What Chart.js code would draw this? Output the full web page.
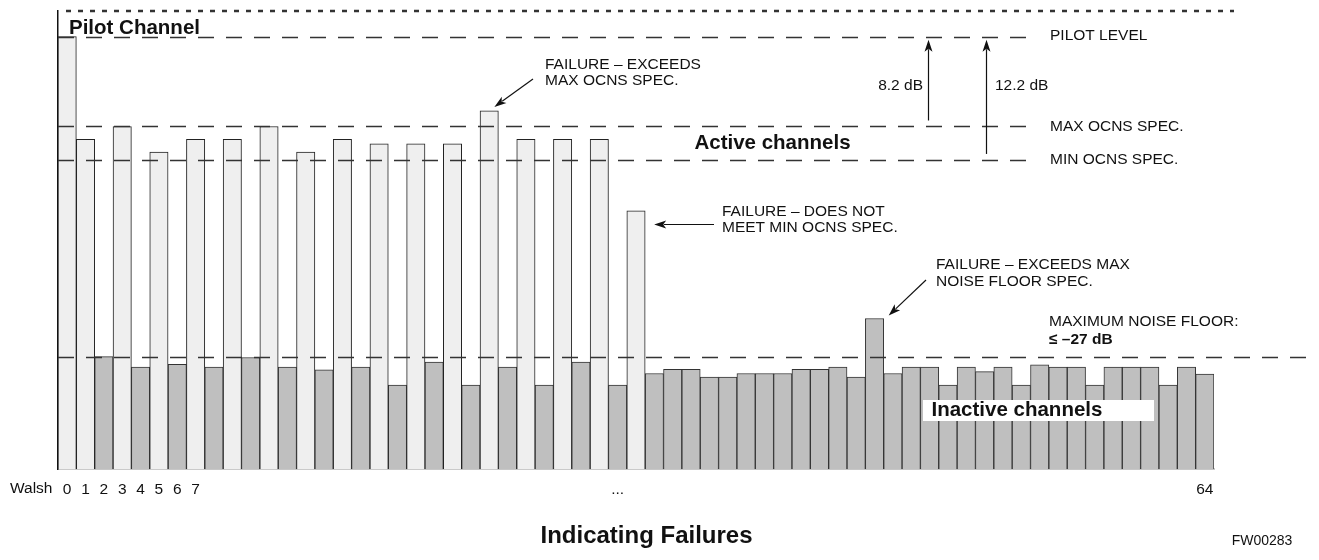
<!DOCTYPE html>
<html>
<head>
<meta charset="utf-8">
<title>Indicating Failures</title>
<script src="https://cdn.jsdelivr.net/npm/chart.js@4/dist/chart.umd.min.js"></script>
<style>
  html, body { margin: 0; padding: 0; background: #fff; }
  #wrap { width: 1319px; height: 560px; }
</style>
</head>
<body>
<div id="wrap"><canvas id="walshChart" width="1319" height="560"></canvas></div>
<script>
// Walsh code slots 0..62 (drawn schematically, last one labelled 64)
const walshCodes = Array.from({ length: 63 }, (_, i) => String(i));

// only a few slots carry a label under the axis
const shownTicks = { 0: "0", 1: "1", 2: "2", 3: "3", 4: "4", 5: "5", 6: "6", 7: "7", 30: "...", 62: "64" };

// relative level (0 = axis, 100 = top dotted line)
const activeLevels = [
  94.4, 72.0, null, 74.8, null, 69.2, null, 72.0, null, 72.0, null, 74.8, null, 69.2, null, 72.0,
  null, 71.0, null, 71.0, null, 71.0, null, 78.2, null, 72.0, null, 72.0, null, 72.0, null, 56.4,
  null, null, null, null, null, null, null, null, null, null, null, null, null, null, null, null,
  null, null, null, null, null, null, null, null, null, null, null, null, null, null, null
];
const inactiveLevels = [
  null, null, 24.6, null, 22.3, null, 22.9, null, 22.3, null, 24.4, null, 22.3, null, 21.7, null,
  22.3, null, 18.4, null, 23.4, null, 18.4, null, 22.3, null, 18.4, null, 23.4, null, 18.4, null,
  20.9, 21.8, 21.8, 20.1, 20.1, 20.9, 20.9, 20.9, 21.8, 21.8, 22.3, 20.1, 32.9, 20.9, 22.3, 22.3,
  18.4, 22.3, 21.3, 22.3, 18.4, 22.8, 22.3, 22.3, 18.4, 22.3, 22.3, 22.3, 18.4, 22.3, 20.8
];

// spec lines
const topLevel = 100;
const pilotLevel = 94.4;
const maxOcnsLevel = 74.8;
const minOcnsLevel = 67.5;
const noiseFloorLevel = 24.6;

const FONT = "'Liberation Sans', Arial, Helvetica, sans-serif";
const INK = "#111";

function arrow(ctx, x1, y1, x2, y2) {
  const ang = Math.atan2(y2 - y1, x2 - x1);
  const len = 12, half = 4;
  ctx.beginPath();
  ctx.moveTo(x1, y1);
  ctx.lineTo(x2 - Math.cos(ang) * len * 0.8, y2 - Math.sin(ang) * len * 0.8);
  ctx.stroke();
  ctx.beginPath();
  ctx.moveTo(x2, y2);
  ctx.lineTo(x2 - Math.cos(ang) * len - Math.sin(ang) * half, y2 - Math.sin(ang) * len + Math.cos(ang) * half);
  ctx.lineTo(x2 - Math.cos(ang) * len * 0.75, y2 - Math.sin(ang) * len * 0.75);
  ctx.lineTo(x2 - Math.cos(ang) * len + Math.sin(ang) * half, y2 - Math.sin(ang) * len - Math.cos(ang) * half);
  ctx.closePath();
  ctx.fill();
}

function text(ctx, str, x, y, size, bold, align) {
  ctx.font = (bold ? "bold " : "") + size + "px " + FONT;
  ctx.textAlign = align || "left";
  ctx.textBaseline = "middle";
  ctx.fillText(str, x, y);
}

const annotations = {
  id: "annotations",
  afterDatasetsDraw(chart) {
    const { ctx } = chart;
    const x = chart.scales.x;
    const y = chart.scales.y;
    const left = chart.chartArea.left;
    ctx.save();
    ctx.strokeStyle = "#333";
    ctx.fillStyle = INK;

    // top dotted line
    ctx.lineWidth = 2.5;
    ctx.setLineDash([5, 7]);
    ctx.beginPath();
    ctx.moveTo(left + 8, y.getPixelForValue(topLevel));
    ctx.lineTo(1234, y.getPixelForValue(topLevel));
    ctx.stroke();

    // dashed spec lines
    ctx.lineWidth = 1.5;
    ctx.setLineDash([16, 12]);
    [[pilotLevel, 1034], [maxOcnsLevel, 1034], [minOcnsLevel, 1034], [noiseFloorLevel, 1316]].forEach(([lv, end]) => {
      const py = Math.round(y.getPixelForValue(lv)) + 0.5;
      ctx.beginPath();
      ctx.moveTo(left, py);
      ctx.lineTo(end, py);
      ctx.stroke();
    });
    ctx.setLineDash([]);

    // line captions
    text(ctx, "PILOT LEVEL", 1050, y.getPixelForValue(pilotLevel) - 1, 15.5);
    text(ctx, "MAX OCNS SPEC.", 1050, y.getPixelForValue(maxOcnsLevel), 15.5);
    text(ctx, "MIN OCNS SPEC.", 1050, y.getPixelForValue(minOcnsLevel), 15.5);

    // dB span arrows
    ctx.lineWidth = 1.2;
    ctx.strokeStyle = INK;
    arrow(ctx, 928.5, y.getPixelForValue(maxOcnsLevel) - 6, 928.5, y.getPixelForValue(pilotLevel) + 3);
    arrow(ctx, 986.5, y.getPixelForValue(minOcnsLevel) - 6, 986.5, y.getPixelForValue(pilotLevel) + 3);
    text(ctx, "8.2 dB", 923, 86, 15.5, false, "right");
    text(ctx, "12.2 dB", 995, 86, 15.5);

    // failure callouts, tips anchored to the bars they point at
    const barRight = (i) => x.getPixelForValue(i) + (x.getPixelForValue(1) - x.getPixelForValue(0)) / 2;
    arrow(ctx, 533, 79, barRight(23) - 4, y.getPixelForValue(activeLevels[23]) - 4);
    text(ctx, "FAILURE \u2013 EXCEEDS", 545, 64.5, 15.5);
    text(ctx, "MAX OCNS SPEC.", 545, 81, 15.5);

    arrow(ctx, 714, 224.5, barRight(31) + 9, 224.5);
    text(ctx, "FAILURE \u2013 DOES NOT", 722, 211.5, 15.5);
    text(ctx, "MEET MIN OCNS SPEC.", 722, 228, 15.5);

    arrow(ctx, 926, 280, barRight(44) + 5, y.getPixelForValue(inactiveLevels[44]) - 3);
    text(ctx, "FAILURE \u2013 EXCEEDS MAX", 936, 265, 15.5);
    text(ctx, "NOISE FLOOR SPEC.", 936, 281.5, 15.5);

    text(ctx, "MAXIMUM NOISE FLOOR:", 1049, 321.5, 15.5);
    text(ctx, "\u2264 \u201327 dB", 1049, 339.5, 15.5, true);

    // group labels
    text(ctx, "Pilot Channel", 69, 28, 20.5, true);
    text(ctx, "Active channels", 772.5, 143, 20.5, true, "center");
    ctx.fillStyle = "#fff";
    ctx.fillRect(923, 400, 231, 21);
    ctx.fillStyle = INK;
    text(ctx, "Inactive channels", 931.5, 410, 20.5, true);

    // axis caption, title, figure id
    text(ctx, "Walsh", 10, 489, 15.5);
    text(ctx, "Indicating Failures", 646.5, 536, 24, true, "center");
    text(ctx, "FW00283", 1262, 541, 14, false, "center");
    ctx.restore();
  }
};

new Chart(document.getElementById("walshChart").getContext("2d"), {
  type: "bar",
  data: {
    labels: walshCodes,
    datasets: [
      {
        label: "Active channels",
        data: activeLevels,
        backgroundColor: "#efefef",
        borderColor: "#222",
        borderWidth: 1,
        grouped: false,
        barPercentage: 1,
        categoryPercentage: 1,
      },
      {
        label: "Inactive channels",
        data: inactiveLevels,
        backgroundColor: "#bfbfbf",
        borderColor: "#333",
        borderWidth: 1,
        grouped: false,
        barPercentage: 1,
        categoryPercentage: 1,
      },
    ],
  },
  options: {
    responsive: false,
    animation: false,
    layout: { padding: { left: 58, right: 105, top: 11, bottom: 40.7 } },
    plugins: {
      legend: { display: false },
      tooltip: { enabled: false },
    },
    scales: {
      x: {
        grid: { display: false, drawTicks: false },
        border: { display: true, color: "#c8c8c8", width: 2 },
        ticks: {
          autoSkip: false,
          maxRotation: 0,
          padding: 11,
          color: INK,
          font: { family: FONT, size: 15.5 },
          callback: (value, index) => shownTicks[index] || "",
        },
        afterFit: (scale) => { scale.height = 50; },
      },
      y: {
        min: 0,
        max: 100,
        grid: { display: false, drawTicks: false },
        border: { display: true, color: "#111", width: 1.5 },
        ticks: { display: false },
        afterFit: (scale) => { scale.width = 0; },
      },
    },
  },
  plugins: [annotations],
});
</script>
</body>
</html>
